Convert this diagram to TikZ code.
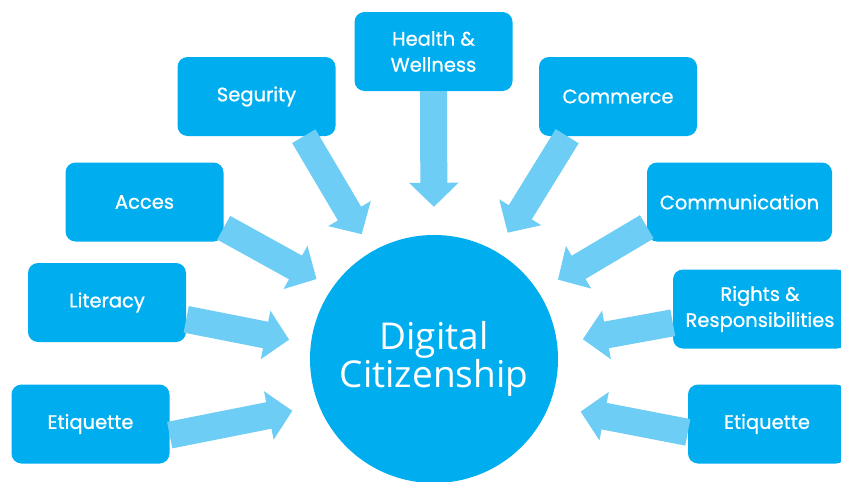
\documentclass[tikz,border=0pt]{standalone}
\usepackage{fontspec}
\usepackage{tikz}
\usetikzlibrary{arrows.meta}
\newfontfamily\boxfont{Poppins}[FakeBold=0.8]
\newfontfamily\hubfont{Open Sans}
\definecolor{dcblue}{RGB}{0,174,239}
\definecolor{dclight}{RGB}{110,205,245}
\tikzset{
  box/.style={fill=dcblue, rounded corners=10pt, align=center, inner sep=2pt, text=white,
    font=\boxfont\fontsize{19.5}{26}\selectfont, minimum width=158pt, minimum height=79pt},
  hub/.style={circle, fill=dcblue, minimum size=248pt, inner sep=0pt, align=center, text=white,
    font=\hubfont\fontsize{37}{36}\selectfont},
  fl/.style={-{Triangle[width=48pt, length=24pt]}, line width=27pt, draw=dclight},
}
\begin{document}
\begin{tikzpicture}[x=1pt, y=-1pt]
  \useasboundingbox[fill=white] (0,0) rectangle (841,482);
  \node[hub] (dc) at (434,359) {Digital\\Citizenship};
  \node[box] (hw) at (433.5,51.5) {Health \&\\Wellness};
  \node[box] (seg) at (256.5,96.5) {Segurity};
  \node[box] (com) at (618,96.5) {Commerce};
  \node[box] (acc) at (144.5,202) {Acces};
  \node[box, minimum width=185pt] (comm) at (739.5,202) {Communication};
  \node[box] (lit) at (107,302.5) {Literacy};
  \node[box] (etl) at (90.5,424) {Etiquette};
  \node[box, minimum width=174pt] (rig) at (760,309) {Rights \&\\Responsibilities};
  \node[box] (etr) at (767,424) {Etiquette};
  % arrows into the hub
  \draw[fl, shorten >=28pt] (hw.south) -- (dc.90);
  \draw[fl, shorten >=20pt] (seg.-40) -- (dc.120);
  \draw[fl, shorten >=22pt] (com.218) -- (dc.60);
  \draw[fl, shorten >=18pt] (acc.-18) -- (dc.145);
  \draw[fl, shorten >=23pt] (comm.195) -- (dc.33);
  \draw[fl, shorten >=22pt] (lit.-12) -- (dc.173);
  \draw[fl, shorten >=27pt] (etl.-8) -- (dc.202);
  \draw[fl, shorten >=26pt] (rig.189) -- (dc.7);
  \draw[fl, shorten >=32pt] (etr.186) -- (dc.-22);
\end{tikzpicture}
\end{document}
